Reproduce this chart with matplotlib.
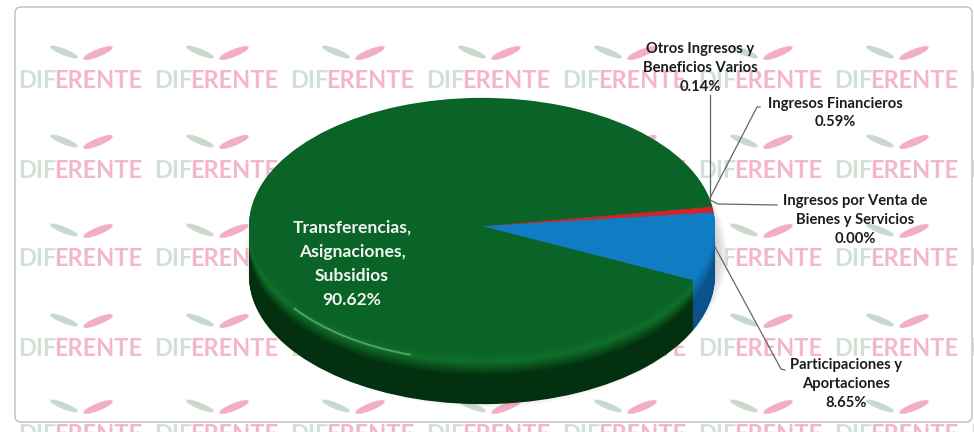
import matplotlib
matplotlib.use("Agg")
import matplotlib.pyplot as plt
from matplotlib.colors import to_rgb
from matplotlib.patches import Arc, Ellipse, FancyBboxPatch

W, H = 974, 432

# slices, counter clockwise from the lower edge of the blue wedge
nombres = ["Participaciones y\nAportaciones", "Ingresos por Venta de\nBienes y Servicios",
           "Ingresos Financieros", "Otros Ingresos y\nBeneficios Varios",
           "Transferencias,\nAsignaciones,\nSubsidios"]
valores = [8.65, 0.00, 0.59, 0.14, 90.62]
etiquetas = ["8.65%", "0.00%", "0.59%", "0.14%", "90.62%"]
colores_top = ["#0f7cc4", "#d3242c", "#d3242c", "#d3242c", "#0b6427"]
colores_rim = ["#0d6fb2", "#a81c24", "#a81c24", "#a81c24", "#107029"]
colores_lado = ["#0a5288", "#5c0e12", "#5c0e12", "#5c0e12", "#03300f"]


def mezcla(a, b, t):
    return [tuple((1 - t) * p + t * q for p, q in zip(to_rgb(c1), to_rgb(c2)))
            for c1, c2 in zip(a, b)]


fig = plt.figure(figsize=(W / 100, H / 100), dpi=100)
ax = fig.add_axes([0, 0, 1, 1])
ax.set_xlim(0, W)
ax.set_ylim(H, 0)
ax.axis("off")

# watermark
for fila in [81, 170, 259, 349, 435]:
    for col in range(0, 8):
        x = 18 + col * 136
        ax.text(x, fila, "DIF", color="#d2e0d6", fontsize=17, family="Lato", weight="bold",
                va="center", ha="left", clip_on=True)
        ax.text(x + 36, fila, "ERENTE", color="#f3b6cc", fontsize=17, family="Lato",
                weight="bold", va="center", ha="left", clip_on=True)
        ax.add_patch(Ellipse((x + 46, fila - 29), 28, 5, angle=22, color="#c9dacd"))
        ax.add_patch(Ellipse((x + 80, fila - 28), 30, 6, angle=-22, color="#f2aec6"))

ax.add_patch(FancyBboxPatch((15, 7), 957, 415, boxstyle="round,pad=0,rounding_size=6",
                            fc="none", ec="#bdbdbd", lw=1))

# shadow
for i in range(8):
    ax.add_patch(Ellipse((486, 254), 482 - i * 4, 306 - i * 4, color="#555566",
                         alpha=0.05, lw=0))

# pie axes: same pixels in x, y squashed so the circles turn into ellipses
escala = 0.55
cx, cy = 482, H - 226
radio = 233
pie_ax = fig.add_axes([0, 0, 1, 1], facecolor="none")


def capa(colores, dy):
    pie_ax.pie(valores, colors=colores, startangle=-25, radius=radio,
               center=(cx, (cy - dy) / escala), wedgeprops={"linewidth": 0})


grosor = 50
for dy in range(grosor, 0, -1):
    if dy > 22:
        capa(colores_lado, dy)
    elif dy > 8:
        capa(mezcla(colores_rim, colores_lado, (dy - 8) / 14), dy)
    else:
        capa(mezcla(colores_top, colores_rim, dy / 8), dy)
capa(colores_top, 0)
pie_ax.set_aspect("auto")
pie_ax.set_xlim(0, W)
pie_ax.set_ylim(0, H / escala)
pie_ax.axis("off")

# leader lines on top of the pie
lineas = [([710, 710], [95, 200]),
          ([760, 757, 710], [107, 107, 198]),
          ([777, 718, 710], [205, 204, 200]),
          ([785, 781, 715], [370, 369, 247])]
txt = fig.add_axes([0, 0, 1, 1], facecolor="none")
txt.set_xlim(0, W)
txt.set_ylim(H, 0)
txt.axis("off")
for xs, ys in lineas:
    txt.plot(xs, ys, color="#666666", lw=0.9)

# highlight along the lower left rim
txt.add_patch(Arc((482, 232), 466, 258, theta1=120, theta2=158, color="#8fc79b", lw=1.4,
                  alpha=0.55))

fuente = dict(family="Lato", weight="bold", fontsize=10.6, ha="center", va="center",
              linespacing=1.42)
txt.text(700, 68, nombres[3] + "\n" + etiquetas[3], color="#1c1c1c", **fuente)
txt.text(835, 113, nombres[2] + "\n" + etiquetas[2], color="#1c1c1c", **fuente)
txt.text(855, 220, nombres[1] + "\n" + etiquetas[1], color="#1c1c1c", **fuente)
txt.text(846, 384, nombres[0] + "\n" + etiquetas[0], color="#1c1c1c", **fuente)
txt.text(352, 264, nombres[4] + "\n" + etiquetas[4], color="#f2f5f0",
         **{**fuente, "fontsize": 12.6, "linespacing": 1.62})

fig.savefig("out.png", dpi=100)
